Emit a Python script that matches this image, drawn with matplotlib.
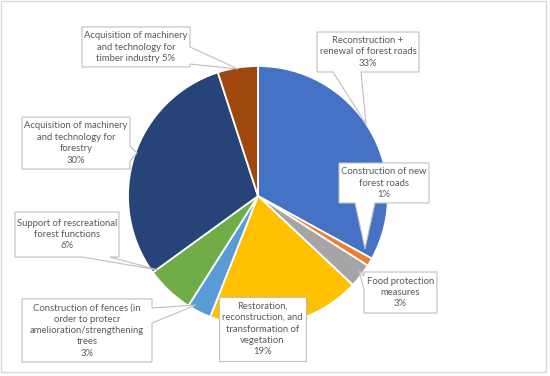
import numpy as np
import matplotlib.pyplot as plt
from matplotlib.patches import Polygon, Rectangle

labels = ['Reconstruction +\nrenewal of forest roads\n33%',
          'Construction of new\nforest roads\n1%',
          'Food protection\nmeasures\n3%',
          'Restoration,\nreconstruction, and\ntransformation of\nvegetation\n19%',
          'Construction of fences (in\norder to protecr\namelioration/strengthening\ntrees\n3%',
          'Support of rescreational\nforest functions\n6%',
          'Acquisition of machinery\nand technology for\nforestry\n30%',
          'Acquisition of machinery\nand technology for\ntimber industry 5%']
values = [33, 1, 3, 19, 3, 6, 30, 5]
colors = ['#4472C4', '#ED7D31', '#A5A5A5', '#FFC000',
          '#5B9BD5', '#70AD47', '#264478', '#9E480E']

# callout layout in pixel coords (y down): box, wedge side, wedge base, tip
callouts = [
    ((317, 32, 419, 72), 'bottom', (333, 361), (366, 124)),
    ((339, 163, 429, 203), 'bottom', (355, 375), (365, 249)),
    ((364, 272, 437, 313), 'left', (276, 290), (359, 270)),
    ((219, 297, 306, 361), None, None, None),
    ((22, 299, 152, 362), 'right', (308, 323), (196, 305)),
    ((15, 212, 119, 257), 'bottom', (82, 110), (158, 270)),
    ((22, 117, 130, 169), 'right', (146, 161), (137, 153)),
    ((82, 27, 190, 67), 'right', (47, 64), (238, 69)),
]

plt.rcParams['font.family'] = ['Lato', 'DejaVu Sans']
fig = plt.figure(figsize=(5.5, 3.76), dpi=100)
ax = fig.add_axes([0, 0, 1, 1])

ax.pie(values, colors=colors, center=(258, 196), radius=130,
       startangle=270, counterclock=True,
       wedgeprops=dict(edgecolor='white', linewidth=1.3))
ax.set_xlim(0, 550)
ax.set_ylim(376, 0)
ax.set_aspect('equal')
ax.axis('off')

ax.add_patch(Rectangle((1, 1), 545, 371, fill=False, edgecolor='#D9D9D9', lw=1))

def callout_shape(box, side, base, tip):
    x0, y0, x1, y1 = box
    pts = [(x0, y0), (x1, y0)]
    if side == 'right':
        pts += [(x1, base[0]), tip, (x1, base[1])]
    pts.append((x1, y1))
    if side == 'bottom':
        pts += [(base[1], y1), tip, (base[0], y1)]
    pts.append((x0, y1))
    if side == 'left':
        pts += [(x0, base[1]), tip, (x0, base[0])]
    return pts

for lab, (box, side, base, tip) in zip(labels, callouts):
    pts = callout_shape(box, side, base, tip)
    ax.add_patch(Polygon(pts, closed=True, facecolor='white',
                         edgecolor='#BFBFBF', lw=0.8, zorder=5))
    cx = (box[0] + box[2]) / 2
    cy = (box[1] + box[3]) / 2
    ax.text(cx, cy, lab, ha='center', va='center', fontsize=6.8,
            color='#595959', linespacing=1.35, zorder=6)

fig.savefig('out.png', dpi=100)
